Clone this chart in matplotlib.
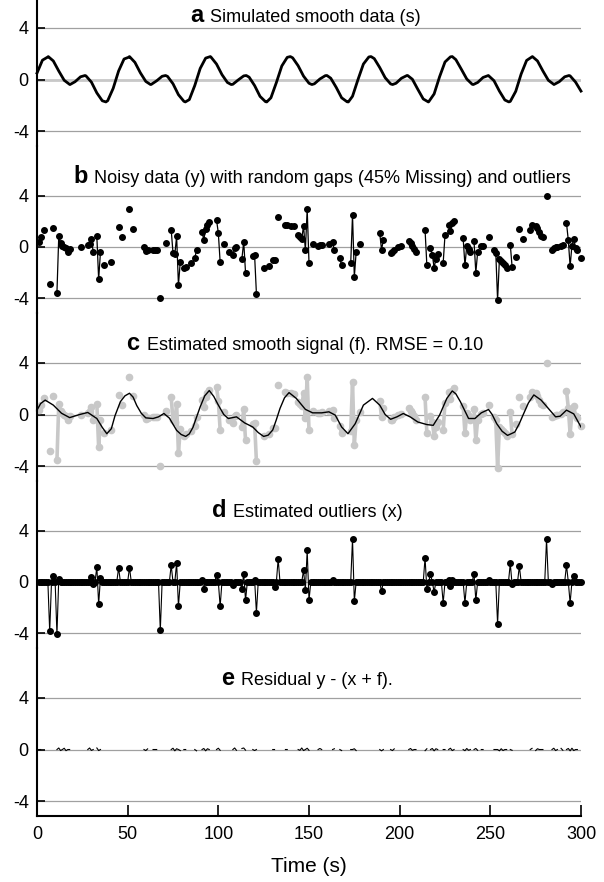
import numpy as np
import matplotlib
matplotlib.use('Agg')
import matplotlib.pyplot as plt

plt.rcParams['font.family'] = ['Liberation Sans', 'DejaVu Sans']
plt.rcParams['axes.unicode_minus'] = False

# a: simulated smooth signal, read every 3 s
s_t = np.arange(0, 301, 3)
s_vals = [0.5, 1.5, 1.75, 1.44, 0.66, -0.06, -0.38, -0.17, 0.21, 0.28,
          -0.2, -1.04, -1.65, -1.64, -0.69, 0.66, 1.59, 1.75, 1.33, 0.52,
          -0.15, -0.38, -0.1, 0.25, 0.24, -0.33, -1.18, -1.69, -1.56, -0.47,
          0.86, 1.66, 1.73, 1.2, 0.38, -0.23, -0.37, -0.03, 0.28, 0.18,
          -0.47, -1.31, -1.72, -1.42, -0.24, 1.05, 1.72, 1.68, 1.07, 0.26,
          -0.29, -0.33, 0.04, 0.3, 0.1, -0.61, -1.42, -1.73, -1.3, -0.01,
          1.2, 1.75, 1.62, 0.93, 0.14, -0.34, -0.29, 0.1, 0.31, 0.02,
          -0.76, -1.51, -1.73, -1.12, 0.21, 1.36, 1.76, 1.54, 0.8, 0.04,
          -0.37, -0.23, 0.16, 0.3, -0.09, -0.9, -1.59, -1.7, -0.92, 0.43,
          1.48, 1.76, 1.44, 0.66, -0.06, -0.38, -0.17, 0.21, 0.28, -0.2,
          -0.9]
# peaks and troughs of (a)
s_ext_t = [6.2, 51.0, 95.6, 139.7, 184.2, 229.0, 273.2,
           38.0, 81.8, 126.7, 171.7, 215.8, 260.2,
           18.2, 62.6, 107.1, 151.6, 196.1, 240.6, 285.1,
           26.5, 70.9, 115.4, 159.9, 204.4, 248.9, 293.4]
s_ext_v = [1.78] * 7 + [-1.74] * 6 + [-0.39] * 7 + [0.31] * 7

# b: observed (noisy) samples, the rest is missing
obs_t = [1, 2, 4, 7, 9, 11, 12, 13, 14, 15, 16, 17, 18, 24, 28, 29, 30, 31,
         33, 34, 35, 37, 41, 45, 47, 51, 53, 59, 60, 61, 64, 65, 66, 68, 71,
         74, 75, 76, 77, 78, 79, 81, 82, 85, 87, 88, 91, 92, 93, 94, 95,
         99, 100, 101, 103, 106, 108, 109, 110, 113, 114, 115, 119, 120, 121,
         125, 128, 130, 131, 133, 137, 138, 140, 142, 144, 145, 146, 147, 148,
         149, 150, 152, 155, 156, 157, 161, 163, 164, 167, 168, 173, 174, 175,
         176, 178, 189, 190, 191, 195, 196, 197, 199, 201, 205, 206, 207, 208,
         209, 214, 215, 217, 218, 219, 220, 221, 224, 225, 227, 228, 229, 230,
         235, 236, 237, 238, 239, 241, 242, 243, 245, 246, 249, 252, 253, 254,
         255, 256, 257, 258, 259, 261, 262, 264, 266, 268, 272, 273, 275, 276,
         277, 278, 279, 281, 284, 285, 286, 287, 289, 290, 292, 293, 294, 295,
         296, 297, 298, 300]
obs_y = [0.36, 0.77, 1.29, -2.86, 1.47, -3.56, 0.83, 0.31, 0.10, 0.00, -0.08,
         -0.41, -0.15, 0.00, 0.15, 0.26, 0.62, -0.39,
         0.83, -2.53, -0.39, -1.45, -1.19, 1.55, 0.77, 2.94, 1.42, 0.00, -0.34,
         -0.26, -0.21, -0.23, -0.23, -4.00, 0.31,
         1.34, -0.46, -0.59, 0.83, -2.99, -1.16, -1.68, -1.55, -1.29, -0.90,
         -0.21, 1.14, 0.57, 1.39, 1.68, 1.91,
         2.12, 1.08, -1.19, 0.23, -0.39, -0.65, -0.08, 0.00, -0.93, 0.41, -2.01,
         -0.72, -0.65, -3.64,
         -1.63, -1.50, -1.06, -1.03, 2.30, 1.73, 1.68, 1.66, 1.60, 0.95, 0.80,
         0.65, 1.65, -0.26,
         2.94, -1.24, 0.26, 0.10, 0.15, 0.18, 0.26, 0.36, -0.26, -0.90, -1.45,
         -1.29, 2.50, -2.35,
         -0.41, 0.23, 1.08, -0.21, 0.52, -0.46, -0.39, -0.21, 0.00, 0.05, 0.50,
         0.30, 0.10, -0.15,
         -0.40, 1.34, -1.45, -0.08, -0.60, -1.63, -0.93, -0.59, -1.24, 0.93,
         1.73, 1.21, 1.86, 2.04,
         0.70, -1.45, 0.10, -0.15, -0.41, 0.44, -2.01, -0.41, 0.05, 0.10, 0.75,
         -0.21, -0.46, -4.15,
         -0.98, -1.11, -1.29, -1.45, -1.68, 0.18, -1.55, -0.77, 1.39, 0.65,
         1.34, 1.73, 1.65, 1.47,
         1.14, 0.83, 0.77, 3.97, -0.21, -0.08, 0.00, 0.00, 0.05, 0.18, 1.86,
         0.52, -1.50, 0.10,
         0.65, -0.08, -0.26, -0.90]

# c: estimated smooth signal
f_t = [0, 2, 4.5, 9, 13.5, 18, 23.5, 28, 33, 36, 38.5, 41, 43, 46, 48.5, 51,
       53, 55, 57.5, 60, 64, 67, 70, 73, 77, 79.5, 82, 84, 86, 88, 90, 92.5,
       95, 97.5, 100, 103, 105.5, 110, 114.5, 119, 122, 125, 127.5, 130, 132,
       134, 136.5, 139, 143, 148, 152, 157, 161, 164.5, 168, 171.5, 175.5, 180,
       185, 189, 192, 195, 198.5, 202, 206, 210, 215, 218.5, 222, 226, 229,
       231, 233.5, 238, 241.5, 245, 249, 251, 253.5, 256.5, 259.5, 263.5, 266,
       268, 271, 274, 278, 282, 286, 288.5, 292, 296, 300]
f_vals = [0.34, 0.85, 1.12, 0.73, 0.1, -0.24, 0.0, 0.16, -0.31, -1.0, -1.49,
          -1.1, -0.1, 1.0, 1.45, 1.65, 1.35, 0.7, 0.1, -0.26, -0.31, -0.18,
          0.08, -0.28, -1.23, -1.55, -1.7, -1.5, -1.0, -0.2, 0.6, 1.45, 1.86,
          1.4, 0.73, 0.0, -0.31, -0.18, -0.65, -0.97, -1.4, -1.7, -1.6, -1.2,
          -0.4, 0.47, 1.3, 1.7, 1.25, 0.4, 0.13, 0.13, 0.21, -0.05, -0.97,
          -1.49, -0.71, 0.73, 1.25, 0.73, 0.0, -0.37, -0.18, 0.08, -0.2, -0.58,
          -0.78, -0.84, -0.05, 1.25, 1.83, 1.6, 0.99, -0.31, -0.31, 0.13, 0.39,
          0.0, -0.71, -1.3, -1.62, -1.36, -0.7, -0.05, 0.9, 1.52, 1.12, 0.47,
          -0.18, -0.13, 0.34, 0.05, -0.97]

# d: estimated outliers (zero elsewhere)
out_t = [7, 9, 11, 12, 30, 31, 33, 34, 35, 45, 51, 68, 74, 77, 78, 91, 92, 99,
         101, 108, 113, 114, 115, 120, 121, 131, 133, 147, 148, 149, 150, 163,
         174, 175, 190, 214, 215, 217, 219, 224, 227, 228, 229, 236, 241, 242,
         249, 254, 261, 262, 266, 281, 284, 292, 294, 296]
out_v = [-3.87, 0.47, -4.10, 0.26, 0.39, -0.18, 1.18, -1.75, 0.34, 1.10, 1.12,
         -3.79, 1.31, 1.49, -1.91, 0.18, -0.52, 0.52, -1.91, -0.26, -0.58, 0.65,
         -1.44, 0.18, -2.41, -0.39, 1.80, 0.92, -0.65, 2.48, -1.44, 0.18, 3.35,
         -1.52, -0.73, 1.88, -0.58, 0.58, -0.78, -1.65, 0.18, -0.34, 0.13,
         -1.65, 0.65, -1.44, 0.18, -3.27, 1.44, -0.20, 1.23, 3.32, -0.18, 1.31,
         -1.65, 0.44]

# e: residual, nonzero only at a few observed samples
res_t = [12, 13, 15, 16, 29, 30, 33, 34, 60, 61, 75, 76, 77, 79, 88, 92, 93,
         94, 100, 101, 109, 110, 113, 114, 115, 120, 145, 146, 147, 149, 150,
         156, 164, 168, 175, 176, 190, 196, 197, 206, 207, 214, 215, 218, 219,
         220, 228, 229, 236, 237, 238, 242, 243, 255, 256, 257, 262, 273, 275,
         276, 285, 286, 289, 290, 293, 294, 295, 296]
res_v = [0.12, -0.08, 0.1, -0.09, 0.12, -0.07, 0.12, -0.08, -0.08, 0.05, 0.1,
         -0.1, 0.06, -0.08, -0.1, 0.08, -0.1, 0.06, 0.1, -0.06, 0.12, -0.06,
         0.08, 0.12, -0.05, -0.08, -0.06, 0.12, -0.08, 0.1, -0.06, 0.08, 0.06,
         -0.08, 0.06, -0.08, -0.1, -0.08, 0.05, 0.08, -0.06, -0.09, 0.06, 0.08,
         -0.1, 0.06, 0.1, -0.08, -0.09, 0.08, -0.06, 0.08, -0.06, -0.1, 0.06,
         -0.08, -0.06, 0.09, -0.08, 0.06, 0.1, -0.08, 0.09, -0.06, 0.08, -0.1,
         0.1, -0.08]

# curve (a) = grid readings plus the read extrema, in time order
sa_t = np.concatenate([s_t, s_ext_t])
sa_v = np.concatenate([s_vals, s_ext_v])
order = np.argsort(sa_t, kind='stable')
sa_t, sa_v = sa_t[order], sa_v[order]

t = np.arange(1, 301)
y = np.full(300, np.nan)
y[np.array(obs_t) - 1] = obs_y
x_out = np.zeros(300)
x_out[np.array(out_t) - 1] = out_v
resid = np.where(np.isnan(y), np.nan, 0.0)
resid[np.array(res_t) - 1] = res_v
resid[np.isnan(y)] = np.nan

W, H = 604.0, 882.0
edges = [0, 146, 313, 481, 648, 816]
fig = plt.figure(figsize=(6.04, 8.82), dpi=100)
axs = []
for i in range(5):
    top, bot = edges[i], edges[i + 1]
    ax = fig.add_axes([37 / W, 1 - bot / H, 544 / W, (bot - top) / H])
    ax.patch.set_alpha(0)
    ax.set_xlim(0, 300)
    ax.set_ylim(-5.16, 6.17 if i == 0 else 7.88)
    ax.spines['top'].set_visible(False)
    ax.spines['right'].set_visible(False)
    ax.spines['left'].set_linewidth(1.5)
    ax.spines['bottom'].set_linewidth(1.5)
    ax.set_yticks([-4, 0, 4])
    ax.set_yticklabels(['-4', '0', '4'])
    ax.tick_params(axis='y', direction='in', length=6, width=1.2,
                   labelsize=13, pad=6)
    for yv in (-4, 0, 4):
        if i == 0 and yv == 0:
            ax.axhline(yv, color='#c8c8c8', lw=2, zorder=0)
        else:
            ax.axhline(yv, color='#a0a0a0', lw=0.9, zorder=0)
    if i < 4:
        ax.spines['bottom'].set_visible(False)
        ax.tick_params(axis='x', bottom=False, labelbottom=False)
    axs.append(ax)

def panel_title(ax, letter, text, x_letter, x_text, ybase):
    ax.text(x_letter, ybase, letter, fontsize=17, fontweight='bold',
            ha='left', va='baseline')
    ax.text(x_text, ybase, text, fontsize=13, ha='left', va='baseline')

panel_title(axs[0], 'a', 'Simulated smooth data (s)', 84.4, 95.4, 4.45)
panel_title(axs[1], 'b', 'Noisy data (y) with random gaps (45% Missing) and outliers',
            19.9, 31.4, 5.0)
panel_title(axs[2], 'c', 'Estimated smooth signal (f). RMSE = 0.10', 49.1, 60.7, 5.0)
panel_title(axs[3], 'd', 'Estimated outliers (x)', 96.5, 108.1, 5.1)
panel_title(axs[4], 'e', 'Residual y - (x + f).', 101.5, 112.5, 5.0)

# a
axs[0].plot(sa_t, sa_v, color='black', lw=2.0, solid_joinstyle='round',
            clip_on=False)

# b
axs[1].plot(t, y, color='black', lw=0.9, marker='o', ms=4, clip_on=False)

# c
axs[2].plot(t, y, color='#c8c8c8', lw=2.6, marker='o', ms=4.5, clip_on=False)
axs[2].plot(f_t, f_vals, color='black', lw=1.0, solid_joinstyle='round')

# d
axs[3].plot(t, x_out, color='black', lw=0.8, marker='o', ms=4, clip_on=False)

# e
axs[4].plot(t, resid, color='black', lw=0.8)
axs[4].set_xticks(np.arange(0, 301, 50))
axs[4].tick_params(axis='x', direction='in', length=8, width=1.2,
                   labelsize=13, pad=7)
axs[4].set_xlabel('Time (s)', fontsize=15, labelpad=10)

fig.savefig('out.png', dpi=100)
